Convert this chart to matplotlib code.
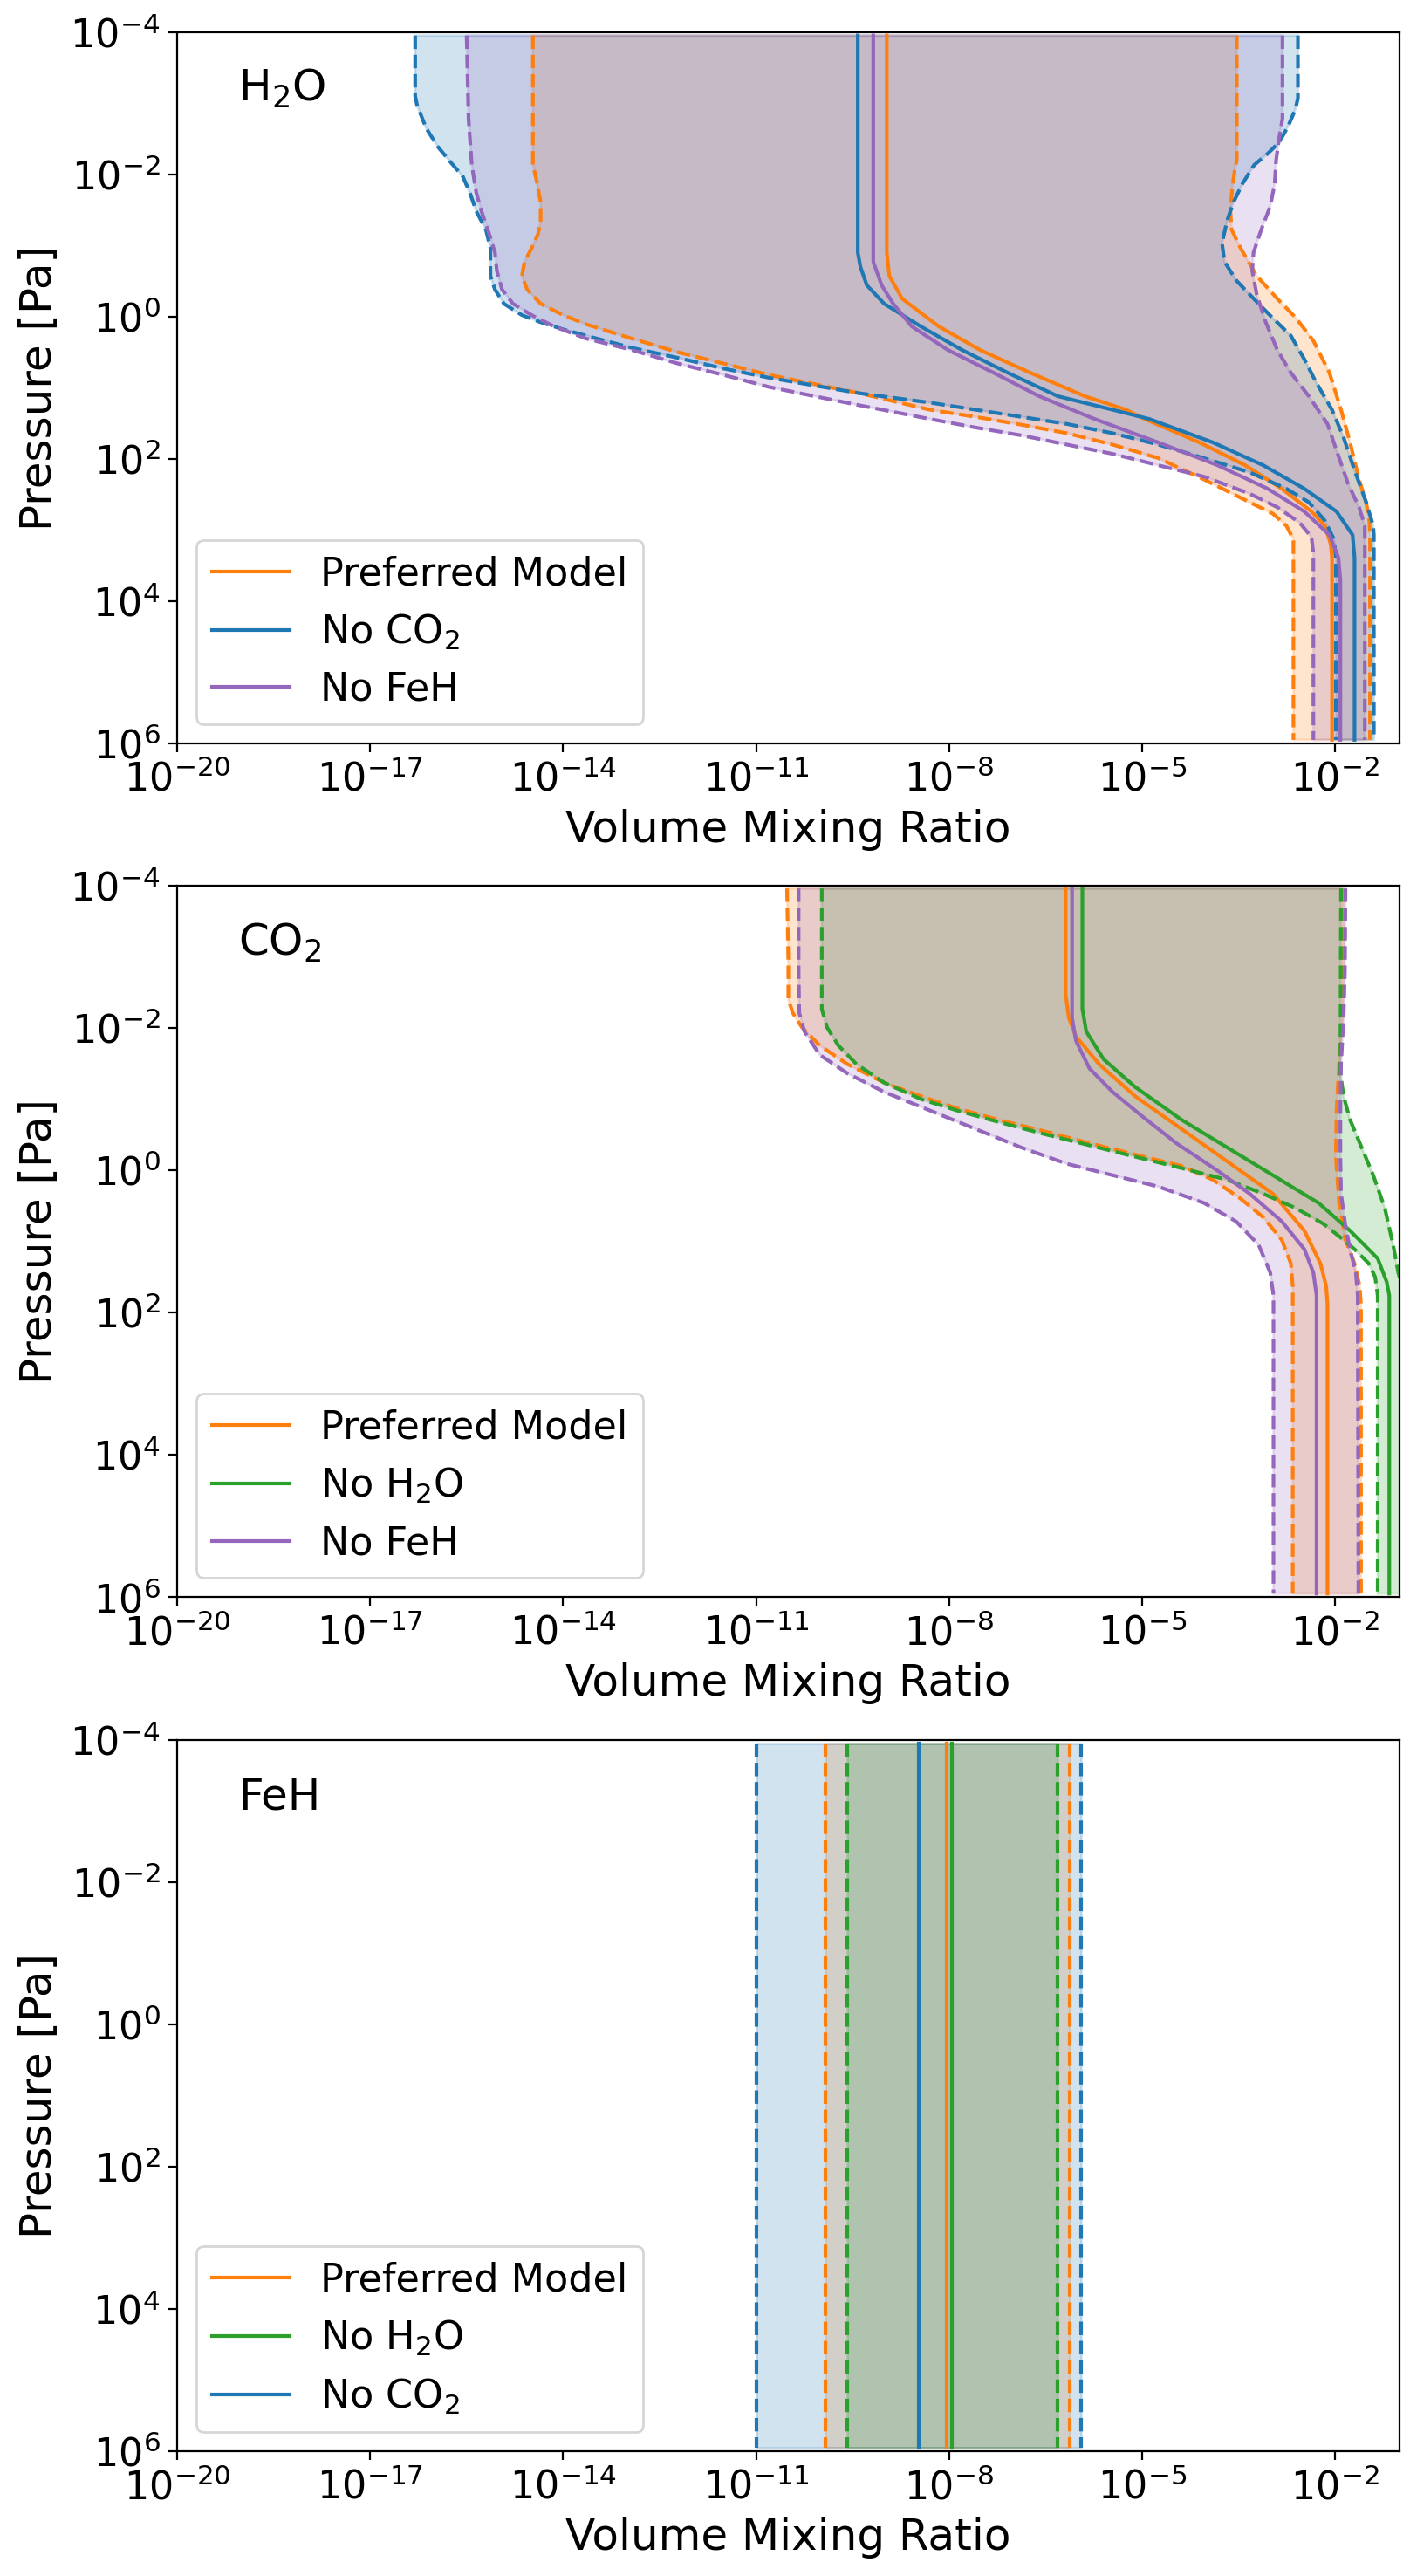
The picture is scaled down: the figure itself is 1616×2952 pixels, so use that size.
import numpy as np
import matplotlib
matplotlib.use("Agg")
import matplotlib.pyplot as plt
from matplotlib.ticker import NullLocator

# Profiles: (log10 pressure [Pa], log10 VMR) pairs
# H2O panel
h2o_pref_lo = [(-3.95, -14.47), (-2.13, -14.47), (-1.94, -14.42), (-1.61, -14.35), (-1.35, -14.35),
               (-1.16, -14.39), (-0.96, -14.49), (-0.77, -14.60), (-0.57, -14.64), (-0.38, -14.56),
               (-0.18, -14.35), (-0.02, -14.00), (0.11, -13.64), (0.31, -12.93), (0.50, -12.22),
               (0.66, -11.51), (0.82, -10.80), (0.95, -10.09), (1.08, -9.38), (1.31, -8.30),
               (1.41, -7.59), (1.52, -6.88), (1.64, -6.17), (1.80, -5.46), (1.99, -4.75),
               (2.29, -4.04), (2.61, -3.33), (2.77, -2.97), (2.94, -2.76), (3.13, -2.65), (5.95, -2.65)]
h2o_pref_med = [(-3.95, -8.97), (-0.90, -8.97), (-0.57, -8.93), (-0.25, -8.73), (0.14, -8.16),
                (0.47, -7.52), (0.79, -6.74), (1.12, -5.89), (1.31, -5.25), (1.44, -4.96),
                (1.77, -4.11), (2.09, -3.40), (2.42, -2.83), (2.74, -2.37), (2.94, -2.16),
                (3.20, -2.07), (3.39, -2.05), (5.95, -2.05)]
h2o_pref_hi = [(-3.95, -3.53), (-2.20, -3.53), (-2.07, -3.56), (-1.81, -3.60), (-1.48, -3.63),
               (-1.22, -3.61), (-0.96, -3.47), (-0.57, -3.22), (-0.25, -2.90), (0.01, -2.62),
               (0.34, -2.34), (0.79, -2.09), (1.31, -1.91), (1.77, -1.77), (2.29, -1.63),
               (2.61, -1.52), (2.87, -1.47), (3.07, -1.46), (5.95, -1.46)]

h2o_noco2_lo = [(-3.95, -16.30), (-3.10, -16.30), (-2.97, -16.27), (-2.65, -16.13), (-2.39, -15.95),
                (-2.16, -15.74), (-1.97, -15.56), (-1.74, -15.45), (-1.48, -15.35), (-1.22, -15.20),
                (-0.96, -15.13), (-0.57, -15.13), (-0.38, -15.06), (-0.18, -14.92), (-0.02, -14.64),
                (0.08, -14.35), (0.18, -14.00), (0.27, -13.64), (0.44, -12.93), (0.58, -12.22),
                (0.73, -11.51), (0.86, -10.80), (0.97, -10.09), (1.08, -9.38), (1.21, -8.30),
                (1.31, -7.59), (1.41, -6.88), (1.51, -6.17), (1.64, -5.46), (1.80, -4.75),
                (1.99, -4.04), (2.19, -3.33), (2.42, -2.76), (2.61, -2.41), (2.87, -2.16),
                (3.13, -2.02), (3.39, -1.99), (5.95, -1.99)]
h2o_noco2_med = [(-3.95, -9.42), (-0.90, -9.42), (-0.70, -9.38), (-0.44, -9.28), (-0.18, -9.01),
                 (0.14, -8.44), (0.47, -7.80), (0.79, -7.09), (1.12, -6.31), (1.31, -5.46),
                 (1.44, -4.89), (1.77, -3.90), (2.09, -3.12), (2.42, -2.48), (2.74, -1.98),
                 (3.07, -1.73), (3.39, -1.70), (5.95, -1.70)]
h2o_noco2_hi = [(-3.95, -2.58), (-3.07, -2.58), (-2.91, -2.62), (-2.68, -2.73), (-2.45, -2.87),
                (-2.29, -3.05), (-2.13, -3.26), (-1.87, -3.44), (-1.61, -3.58), (-1.35, -3.68),
                (-1.03, -3.76), (-0.77, -3.72), (-0.51, -3.54), (-0.31, -3.33), (-0.05, -3.05),
                (0.27, -2.69), (0.60, -2.48), (0.92, -2.30), (1.31, -2.05), (1.70, -1.87),
                (2.16, -1.70), (2.61, -1.52), (2.94, -1.41), (3.07, -1.40), (5.95, -1.40)]

h2o_nofeh_lo = [(-3.95, -15.50), (-2.78, -15.47), (-2.13, -15.42), (-1.74, -15.35), (-1.48, -15.27),
                (-1.22, -15.17), (-0.90, -15.06), (-0.64, -15.03), (-0.38, -14.95), (-0.18, -14.78),
                (-0.02, -14.49), (0.14, -14.14), (0.31, -13.64), (0.47, -12.93), (0.66, -12.22),
                (0.82, -11.51), (0.99, -10.80), (1.12, -10.09), (1.25, -9.38), (1.44, -8.30),
                (1.56, -7.59), (1.67, -6.88), (1.80, -6.17), (1.93, -5.46), (2.09, -4.75),
                (2.25, -4.04), (2.49, -3.33), (2.68, -2.90), (2.90, -2.55), (3.10, -2.37),
                (3.32, -2.34), (5.95, -2.34)]
h2o_nofeh_med = [(-3.95, -9.18), (-0.77, -9.18), (-0.44, -9.05), (-0.18, -8.87), (0.14, -8.58),
                 (0.47, -8.02), (0.79, -7.31), (1.12, -6.60), (1.44, -5.74), (1.77, -4.75),
                 (2.09, -3.83), (2.42, -3.05), (2.74, -2.48), (3.07, -2.09), (3.39, -1.95),
                 (3.71, -1.92), (5.95, -1.92)]
h2o_nofeh_hi = [(-3.95, -2.82), (-2.78, -2.82), (-2.52, -2.87), (-2.19, -2.92), (-1.87, -2.94),
                (-1.55, -3.01), (-1.22, -3.15), (-0.90, -3.27), (-0.64, -3.29), (-0.31, -3.22),
                (0.08, -3.08), (0.47, -2.90), (0.79, -2.69), (1.12, -2.41), (1.51, -2.12),
                (1.96, -1.95), (2.35, -1.80), (2.68, -1.63), (2.94, -1.54), (3.07, -1.54), (5.95, -1.54)]

# CO2 panel
co2_pref_lo = [(-3.96, -10.52), (-2.92, -10.50), (-2.40, -10.50), (-2.21, -10.43), (-2.01, -10.29),
               (-1.75, -10.01), (-1.49, -9.58), (-1.23, -9.01), (-1.04, -8.44), (-0.87, -7.88),
               (-0.71, -7.24), (-0.55, -6.53), (-0.38, -5.82), (-0.22, -5.11), (-0.06, -4.39),
               (0.135, -3.90), (0.40, -3.47), (0.66, -3.12), (0.98, -2.83), (1.31, -2.69),
               (1.63, -2.66), (5.95, -2.66)]
co2_pref_med = [(-3.96, -6.19), (-2.47, -6.19), (-2.14, -6.14), (-1.88, -6.03), (-1.49, -5.67),
                (-1.04, -5.11), (-0.58, -4.39), (-0.125, -3.68), (0.33, -2.97), (0.85, -2.48),
                (1.31, -2.23), (1.63, -2.14), (1.89, -2.12), (5.95, -2.12)]
co2_pref_hi = [(-3.96, -1.87), (-2.14, -1.88), (-1.49, -1.94), (-0.84, -1.98), (-0.19, -1.99),
               (0.46, -1.94), (0.98, -1.84), (1.31, -1.70), (1.63, -1.62), (1.89, -1.60), (5.95, -1.60)]

co2_noh2o_lo = [(-3.96, -9.98), (-2.27, -9.98), (-2.01, -9.90), (-1.75, -9.72), (-1.49, -9.44),
                (-1.23, -9.01), (-1.00, -8.44), (-0.84, -7.88), (-0.68, -7.24), (-0.51, -6.53),
                (-0.35, -5.82), (-0.19, -5.11), (-0.03, -4.39), (0.135, -3.68), (0.33, -3.12),
                (0.53, -2.62), (0.75, -2.19), (0.95, -1.91), (1.11, -1.70), (1.31, -1.48),
                (1.50, -1.38), (1.76, -1.34), (5.95, -1.34)]
co2_noh2o_med = [(-3.96, -5.93), (-2.27, -5.93), (-1.95, -5.87), (-1.56, -5.60), (-1.17, -5.11),
                 (-0.71, -4.39), (-0.32, -3.68), (0.07, -2.97), (0.46, -2.26), (0.85, -1.77),
                 (1.24, -1.34), (1.57, -1.20), (1.76, -1.16), (5.95, -1.16)]
co2_noh2o_hi = [(-3.96, -1.91), (-1.36, -1.92), (-1.04, -1.87), (-0.71, -1.77), (-0.32, -1.59),
                (0.07, -1.41), (0.53, -1.23), (1.05, -1.10), (1.44, -1.02), (1.76, -0.92),
                (2.20, -0.85), (5.95, -0.85)]

co2_nofeh_lo = [(-3.96, -10.34), (-2.79, -10.34), (-2.21, -10.33), (-1.95, -10.25), (-1.62, -10.01),
                (-1.36, -9.58), (-1.10, -9.01), (-0.84, -8.30), (-0.58, -7.59), (-0.32, -6.88),
                (-0.09, -6.17), (0.07, -5.46), (0.23, -4.75), (0.46, -4.04), (0.72, -3.54),
                (1.05, -3.19), (1.44, -3.01), (1.76, -2.96), (5.95, -2.96)]
co2_nofeh_med = [(-3.96, -6.09), (-2.14, -6.09), (-1.82, -6.03), (-1.43, -5.82), (-1.10, -5.46),
                 (-0.78, -5.03), (-0.38, -4.47), (0.005, -3.83), (0.33, -3.33), (0.72, -2.83),
                 (1.11, -2.48), (1.44, -2.34), (1.76, -2.29), (5.95, -2.29)]
co2_nofeh_hi = [(-3.96, -1.84), (-2.79, -1.85), (-2.14, -1.87), (-1.49, -1.91), (-0.84, -1.92),
                (-0.19, -1.92), (0.33, -1.91), (0.79, -1.84), (1.11, -1.77), (1.44, -1.68),
                (1.76, -1.65), (5.95, -1.64)]

# FeH panel: constant profiles (lower, median, upper) in log10 VMR
feh_logp = [-3.95, 5.95]
feh_pref = [-9.93, -8.04, -6.13]
feh_noh2o = [-9.58, -7.96, -6.32]
feh_noco2 = [-11.0, -8.47, -5.95]

pressure_ticks = [1e-4, 1e-2, 1e0, 1e2, 1e4, 1e6]


def to_arrays(curve):
    c = np.array(curve, dtype=float)
    return 10 ** c[:, 1], 10 ** c[:, 0]


def draw_model(ax, lo, med, hi, color, label):
    xl, pl = to_arrays(lo)
    xm, pm = to_arrays(med)
    xh, ph = to_arrays(hi)
    ax.fill(np.concatenate([xl, xh[::-1]]), np.concatenate([pl, ph[::-1]]),
            facecolor=color, edgecolor=color, alpha=0.2, linewidth=1.0)
    ax.plot(xl, pl, "--", color=color)
    ax.plot(xh, ph, "--", color=color)
    ax.plot(xm, pm, "-", color=color, label=label)


def const_profile(vals):
    lo = [(p, vals[0]) for p in feh_logp]
    med = [(p, vals[1]) for p in feh_logp]
    hi = [(p, vals[2]) for p in feh_logp]
    return lo, med, hi


plt.rcParams["lines.linewidth"] = 1.5

fig = plt.figure(figsize=(8.08, 14.76), dpi=200)
bottoms = [0.7114, 0.3800, 0.0484]
axes = [fig.add_axes([0.1256, b, 0.867, 0.2762]) for b in bottoms]

C_PREF, C_NOCO2, C_NOH2O, C_NOFEH = "tab:orange", "tab:blue", "tab:green", "tab:purple"

ax = axes[0]
draw_model(ax, h2o_pref_lo, h2o_pref_med, h2o_pref_hi, C_PREF, "Preferred Model")
draw_model(ax, h2o_noco2_lo, h2o_noco2_med, h2o_noco2_hi, C_NOCO2, "No CO$_2$")
draw_model(ax, h2o_nofeh_lo, h2o_nofeh_med, h2o_nofeh_hi, C_NOFEH, "No FeH")
ax.text(0.05, 0.92, "H$_2$O", transform=ax.transAxes, fontsize=18, va="center")

ax = axes[1]
draw_model(ax, co2_pref_lo, co2_pref_med, co2_pref_hi, C_PREF, "Preferred Model")
draw_model(ax, co2_noh2o_lo, co2_noh2o_med, co2_noh2o_hi, C_NOH2O, "No H$_2$O")
draw_model(ax, co2_nofeh_lo, co2_nofeh_med, co2_nofeh_hi, C_NOFEH, "No FeH")
ax.text(0.05, 0.92, "CO$_2$", transform=ax.transAxes, fontsize=18, va="center")

ax = axes[2]
draw_model(ax, *const_profile(feh_pref), C_PREF, "Preferred Model")
draw_model(ax, *const_profile(feh_noh2o), C_NOH2O, "No H$_2$O")
draw_model(ax, *const_profile(feh_noco2), C_NOCO2, "No CO$_2$")
ax.text(0.05, 0.92, "FeH", transform=ax.transAxes, fontsize=18, va="center")

for ax in axes:
    ax.set_xscale("log")
    ax.set_yscale("log")
    ax.set_xlim(1e-20, 1e-1)
    ax.set_yticks(pressure_ticks)
    ax.set_ylim(1e6, 1e-4)
    ax.xaxis.set_minor_locator(NullLocator())
    ax.yaxis.set_minor_locator(NullLocator())
    ax.tick_params(labelsize=16)
    ax.set_xlabel("Volume Mixing Ratio", fontsize=18)
    ax.set_ylabel("Pressure [Pa]", fontsize=18)
    ax.legend(loc="lower left", fontsize=16)

fig.savefig("out.png", dpi=200)
